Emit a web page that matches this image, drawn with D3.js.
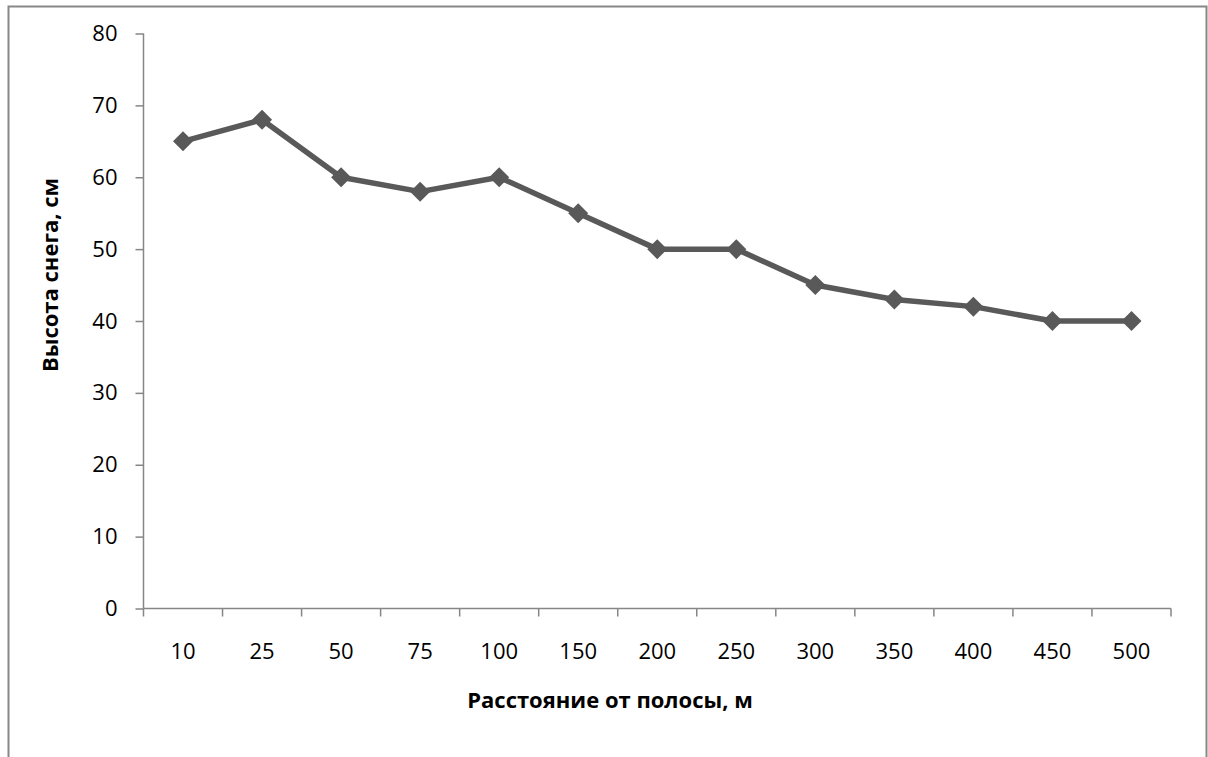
<!DOCTYPE html>
<html><head><meta charset="utf-8">
<script src="https://cdn.jsdelivr.net/npm/d3@7"></script>
<style>html,body{margin:0;padding:0;background:#fff;}svg{display:block;}</style>
</head><body>
<svg id="chart" width="1208" height="757"></svg>
<script>
const categories = ["10","25","50","75","100","150","200","250","300","350","400","450","500"];
const values = [65, 68, 60, 58, 60, 55, 50, 50, 45, 43, 42, 40, 40];
const yTicks = [0,10,20,30,40,50,60,70,80];
const xTitle = "Расстояние от полосы, м";
const yTitle = "Высота снега, см";

const svg = d3.select("#chart");
const font = "'Open Sans', sans-serif";
const axisColor = "#868686";

// outer frame (bottom edge lies below the visible area)
svg.append("path").attr("d","M8.5,780 V6.5 H1206.5 V780")
  .attr("fill","none").attr("stroke","#888").attr("stroke-width",2);

const pL = 143.5, pR = 1171, pT = 33.5, pB = 608.5;
const x = d3.scaleBand().domain(categories).range([pL, pR]);
const y = d3.scaleLinear().domain([0, 80]).range([pB, pT]);

// y axis
const ya = svg.append("g").attr("transform",`translate(${pL},0)`)
  .call(d3.axisLeft(y).tickValues(yTicks).tickSize(8).tickPadding(18).tickFormat(d3.format("d")));
ya.select(".domain").attr("stroke",axisColor).attr("stroke-width",1.5).attr("d",`M0,${pT}V${pB}`);
ya.selectAll(".tick line").attr("stroke",axisColor).attr("stroke-width",1.5);
ya.selectAll(".tick text").attr("font-family",font).attr("font-size",22).attr("fill","#000");

// x axis
const xa = svg.append("g").attr("transform",`translate(0,${pB})`)
  .call(d3.axisBottom(x).tickSize(0).tickPadding(35));
xa.select(".domain").attr("stroke",axisColor).attr("stroke-width",1.5).attr("d",`M${pL},0H${pR}`);
xa.selectAll(".tick line").remove();
xa.selectAll(".tick text").attr("font-family",font).attr("font-size",22).attr("fill","#000");
// boundary ticks
const bounds = categories.map(c => x(c)).concat([x(categories[categories.length-1]) + x.bandwidth()]);
xa.selectAll(".btick").data(bounds).enter().append("line")
  .attr("x1",d=>d).attr("x2",d=>d).attr("y1",0).attr("y2",8)
  .attr("stroke",axisColor).attr("stroke-width",1.5);

// line
const line = d3.line().x((d,i)=>x(categories[i]) + x.bandwidth()/2).y(d=>y(d));
svg.append("path").datum(values).attr("d",line)
  .attr("fill","none").attr("stroke","#595959").attr("stroke-width",5.5).attr("stroke-linejoin","round");

// diamond markers
svg.selectAll(".mk").data(values).enter().append("path")
  .attr("transform",(d,i)=>`translate(${x(categories[i]) + x.bandwidth()/2},${y(d)})`)
  .attr("d","M0,-10L10,0L0,10L-10,0Z").attr("fill","#595959");

// titles
svg.append("text").attr("x",610).attr("y",708).attr("text-anchor","middle")
  .attr("font-family",font).attr("font-weight","bold").attr("font-size",22).text(xTitle);
svg.append("text").attr("transform",`translate(58,275) rotate(-90)`).attr("text-anchor","middle")
  .attr("font-family",font).attr("font-weight","bold").attr("font-size",22).text(yTitle);
</script>
</body></html>
